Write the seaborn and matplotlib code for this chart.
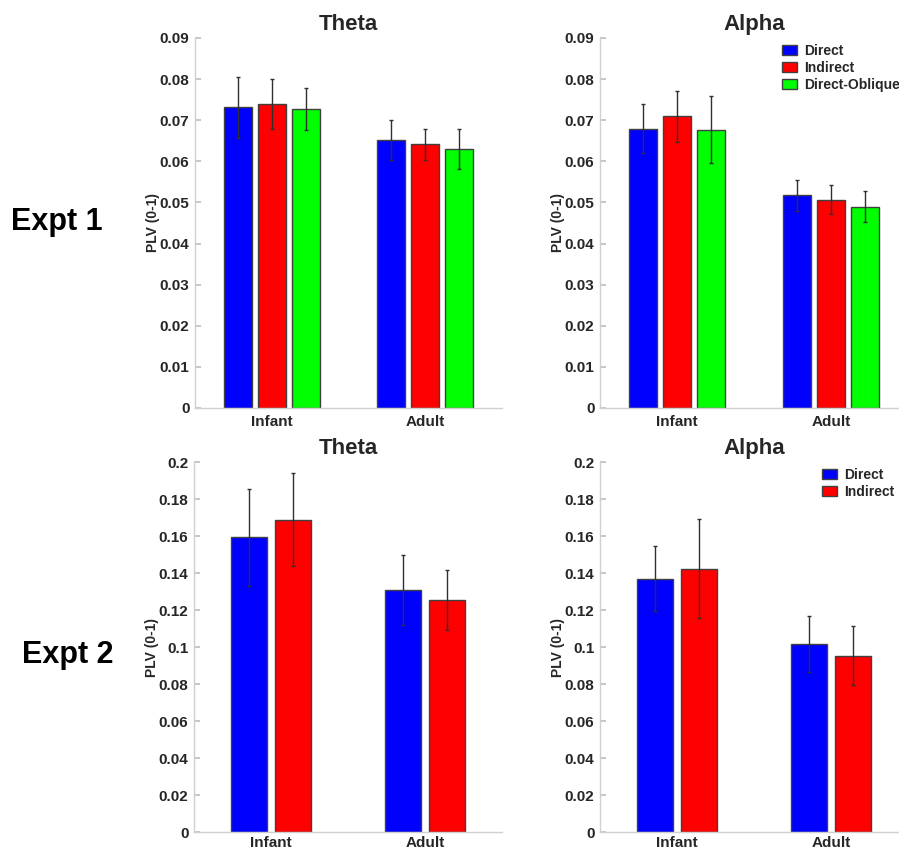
import numpy as np
import pandas as pd
import matplotlib
matplotlib.use("Agg")
import matplotlib.pyplot as plt
import seaborn as sns

# values
groups = ["Infant", "Adult"]
cond3 = ["Direct", "Indirect", "Direct-Oblique"]
cond2 = ["Direct", "Indirect"]

e1_theta_mean = [[0.0731, 0.0739, 0.0728], [0.0651, 0.0641, 0.0630]]
e1_theta_err = [[0.0075, 0.0060, 0.0051], [0.0049, 0.0038, 0.0048]]
e1_alpha_mean = [[0.0679, 0.0710, 0.0677], [0.0517, 0.0507, 0.0490]]
e1_alpha_err = [[0.0060, 0.0062, 0.0082], [0.0038, 0.0035, 0.0037]]

e2_theta_mean = [[0.1592, 0.1688], [0.1310, 0.1255]]
e2_theta_err = [[0.0260, 0.0250], [0.0190, 0.0161]]
e2_alpha_mean = [[0.1368, 0.1424], [0.1016, 0.0953]]
e2_alpha_err = [[0.0176, 0.0266], [0.0153, 0.0160]]

palette = {"Direct": "#0000ff", "Indirect": "#ff0000", "Direct-Oblique": "#00ff00"}

sns.set_theme(style="white")
plt.rcParams["font.family"] = ["Liberation Sans", "DejaVu Sans"]
plt.rcParams["font.weight"] = "bold"

fig = plt.figure(figsize=(8.99, 8.51), dpi=100)


def long_df(means, errs, conds):
    rows = []
    for gi, g in enumerate(groups):
        for ci, c in enumerate(conds):
            rows.append({"Group": g, "Cond": c, "PLV": means[gi][ci], "err": errs[gi][ci]})
    return pd.DataFrame(rows)


def panel(rect, means, errs, conds, title, ymax, step, width, legend, xpad):
    ax = fig.add_axes(rect)
    df = long_df(means, errs, conds)
    sns.barplot(data=df, x="Group", y="PLV", hue="Cond", order=groups,
                hue_order=conds, palette=palette, errorbar=None,
                width=width, gap=0.17, edgecolor="#404040", linewidth=1,
                saturation=1, legend=legend, ax=ax)
    # error bars at the bar centres seaborn placed
    bars = [p for p in ax.patches if p.get_height() > 0][:len(df)]
    for ci, c in enumerate(conds):
        for gi in range(len(groups)):
            b = bars[ci * len(groups) + gi]
            ax.errorbar(b.get_x() + b.get_width() / 2, means[gi][ci],
                        yerr=errs[gi][ci], fmt="none", ecolor="#303030",
                        elinewidth=1, capsize=1.5, capthick=1)
    ax.set_xlim(-0.5, 1.5)
    ax.set_ylim(0, ymax)
    ticks = np.arange(0, ymax + step / 2, step)
    ax.set_yticks(ticks)
    ax.set_yticklabels(["0"] + [f"{t:g}" for t in ticks[1:]])
    ax.set_title(title, fontsize=16, fontweight="bold", pad=6)
    ax.set_xlabel("")
    ax.set_ylabel("PLV (0-1)", fontsize=10, fontweight="bold", labelpad=0)
    for s in ["top", "right"]:
        ax.spines[s].set_visible(False)
    for s in ["left", "bottom"]:
        ax.spines[s].set_color("#d0d0d0")
        ax.spines[s].set_linewidth(1)
    ax.tick_params(axis="y", direction="in", length=4, color="#c0c0c0",
                   labelsize=11, labelcolor="#262626", pad=4, left=True)
    ax.tick_params(axis="x", length=0, labelsize=11, labelcolor="#262626", pad=xpad)
    for lab in ax.get_xticklabels() + ax.get_yticklabels():
        lab.set_fontweight("bold")
    return ax


panel([0.2169, 0.5206, 0.3415, 0.4348], e1_theta_mean, e1_theta_err, cond3,
      "Theta", 0.09, 0.01, 0.663, False, 5)
ax2 = panel([0.6674, 0.5206, 0.3426, 0.4348], e1_alpha_mean, e1_alpha_err, cond3,
            "Alpha", 0.09, 0.01, 0.663, True, 5)
panel([0.2158, 0.0223, 0.3426, 0.4348], e2_theta_mean, e2_theta_err, cond2,
      "Theta", 0.2, 0.02, 0.565, False, 3)
ax4 = panel([0.6674, 0.0223, 0.3426, 0.4348], e2_alpha_mean, e2_alpha_err, cond2,
            "Alpha", 0.2, 0.02, 0.565, True, 3)

# legends nudged a little left so their labels stay inside the figure
for ax, top, x0 in [(ax2, 1 - 44 / 851, 782 / 899), (ax4, 1 - 468 / 851, 822 / 899)]:
    leg = ax.legend(loc="upper left", bbox_to_anchor=(x0, top),
                    bbox_transform=fig.transFigure, frameon=False,
                    fontsize=10, handlelength=1.1, handleheight=0.75,
                    handletextpad=0.5, labelspacing=0.2, borderpad=0,
                    borderaxespad=0, title=None)
    for t in leg.get_texts():
        t.set_fontweight("bold")
        t.set_color("#262626")

fig.text(57 / 899, 1 - 222 / 851, "Expt 1", fontsize=22, fontweight="bold",
         ha="center", va="center", color="black")
fig.text(68 / 899, 1 - 655 / 851, "Expt 2", fontsize=22, fontweight="bold",
         ha="center", va="center", color="black")

fig.savefig("out.png", dpi=100)
